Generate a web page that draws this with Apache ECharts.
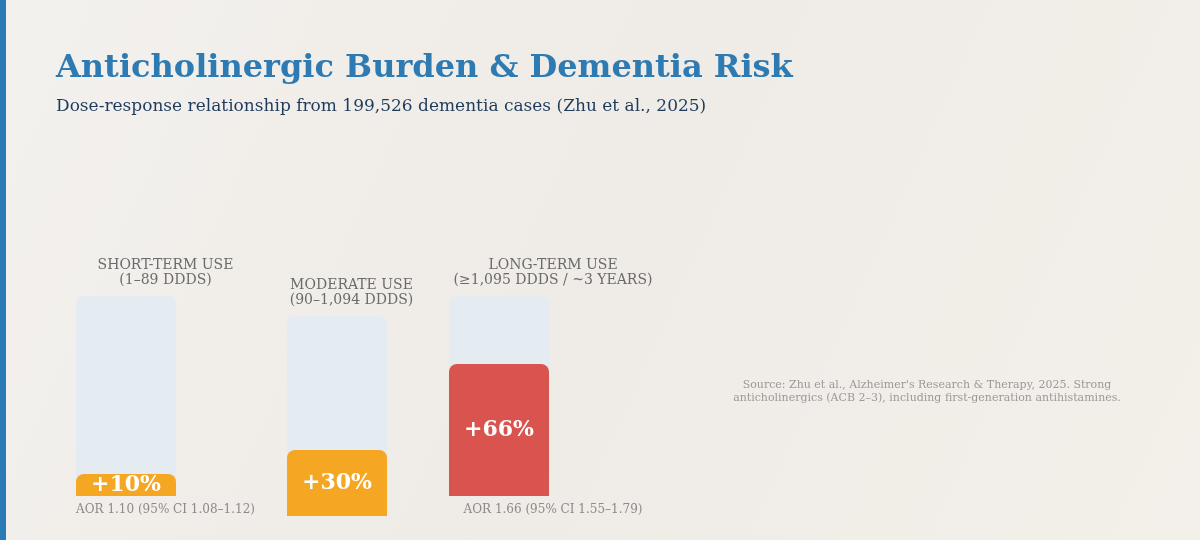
<!DOCTYPE html>
<html>
<head>
<meta charset="utf-8">
<script src="https://cdn.jsdelivr.net/npm/echarts@6/dist/echarts.min.js"></script>
<style>
  html, body { margin: 0; padding: 0; }
  #chart { width: 1200px; height: 540px; }
</style>
</head>
<body>
<div id="chart"></div>
<script>
// data
const categories = ['SHORT-TERM USE\n(1–89 DDDS)', 'MODERATE USE\n(90–1,094 DDDS)', 'LONG-TERM USE\n(≥1,095 DDDS / ~3 YEARS)']
const riskIncrease = [10, 30, 66] // % increase in dementia risk
const barLevel = [11, 33, 66] // drawn fill height, % of track
const aorLabels = ['AOR 1.10 (95% CI 1.08–1.12)', '', 'AOR 1.66 (95% CI 1.55–1.79)']
const barColors = ['#f5a623', '#f5a623', '#d9534f']

// column layout (px)
const cols = [
  { left: 76, top: 296, center: 165.5 },
  { left: 287, top: 316, center: 351.5 },
  { left: 449, top: 296, center: 553 },
]
const barW = 100
const barH = 200
const serif = '"DejaVu Serif", serif'

const chart = echarts.init(document.getElementById('chart'))

const grids = cols.map((c) => ({ left: c.left, top: c.top, width: barW, height: barH }))
const xAxes = cols.map((c, i) => ({ gridIndex: i, type: 'category', data: [categories[i]], show: false }))
const yAxes = cols.map((c, i) => ({ gridIndex: i, type: 'value', min: 0, max: 100, show: false }))

const series = cols.map((c, i) => ({
  type: 'bar',
  xAxisIndex: i,
  yAxisIndex: i,
  barWidth: barW,
  showBackground: true,
  backgroundStyle: { color: '#e4ecf2', borderRadius: [7, 7, 0, 0] },
  itemStyle: { color: barColors[i], borderRadius: [8, 8, 0, 0] },
  label: {
    show: true,
    position: 'inside',
    formatter: () => '+' + riskIncrease[i] + '%',
    color: '#ffffff',
    fontFamily: serif,
    fontWeight: 'bold',
    fontSize: 22,
  },
  data: [barLevel[i]],
}))

const texts = []
// column headers
cols.forEach((c, i) => {
  texts.push({
    type: 'text',
    x: c.center,
    y: c.top - 8,
    style: {
      text: categories[i],
      font: '14px ' + serif,
      fill: '#6b6b6b',
      textAlign: 'center',
      textVerticalAlign: 'bottom',
      lineHeight: 15,
    },
  })
  if (aorLabels[i]) {
    texts.push({
      type: 'text',
      x: c.center,
      y: c.top + barH + 14,
      style: {
        text: aorLabels[i],
        font: '12px ' + serif,
        fill: '#8a8a8a',
        textAlign: 'center',
        textVerticalAlign: 'middle',
      },
    })
  }
})

const option = {
  backgroundColor: new echarts.graphic.LinearGradient(0, 0, 1, 1, [
    { offset: 0, color: '#f3f1ee' },
    { offset: 0.5, color: '#efebe6' },
    { offset: 1, color: '#f3efe9' },
  ]),
  grid: grids,
  xAxis: xAxes,
  yAxis: yAxes,
  series: series,
  graphic: [
    // left accent stripe
    { type: 'rect', left: 0, top: 0, shape: { width: 6, height: 540 }, style: { fill: '#2a7ab5' } },
    {
      type: 'text',
      x: 56,
      y: 69,
      style: {
        text: 'Anticholinergic Burden & Dementia Risk',
        font: 'bold 32px ' + serif,
        fill: '#2e7bb3',
        textVerticalAlign: 'middle',
      },
    },
    {
      type: 'text',
      x: 56,
      y: 107,
      style: {
        text: 'Dose-response relationship from 199,526 dementia cases (Zhu et al., 2025)',
        font: '17px ' + serif,
        fill: '#1f3b5c',
        textVerticalAlign: 'middle',
      },
    },
    {
      type: 'text',
      x: 927,
      y: 392,
      style: {
        text: "Source: Zhu et al., Alzheimer's Research & Therapy, 2025. Strong\nanticholinergics (ACB 2–3), including first-generation antihistamines.",
        font: '11px ' + serif,
        fill: '#9a9a9a',
        textAlign: 'center',
        textVerticalAlign: 'middle',
        lineHeight: 13,
      },
    },
  ].concat(texts),
}

chart.setOption(option)
</script>
</body>
</html>
